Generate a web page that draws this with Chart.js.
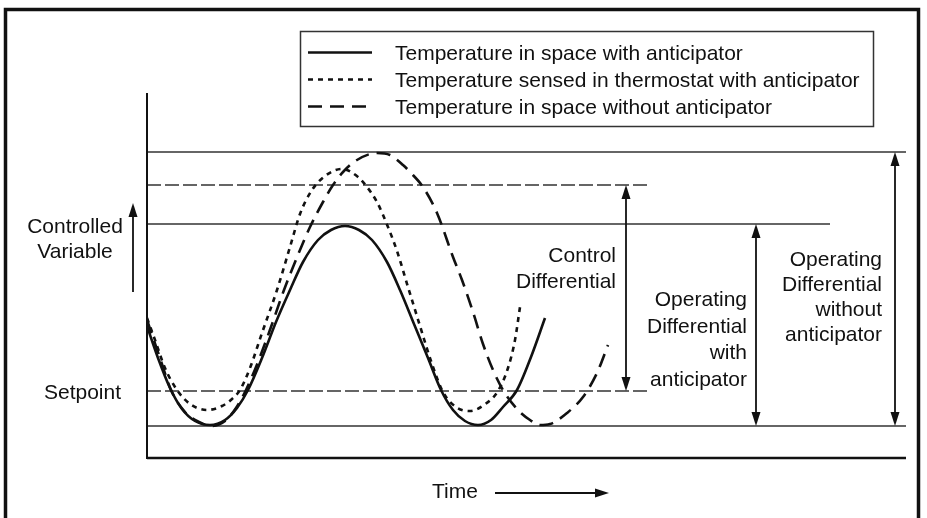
<!DOCTYPE html>
<html>
<head>
<meta charset="utf-8">
<script src="https://cdn.jsdelivr.net/npm/chart.js@4.4.1/dist/chart.umd.min.js"></script>
<style>
  body { margin: 0; background: #fff; }
  canvas { display: block; }
</style>
</head>
<body>
<canvas id="anticipatorChart" width="927" height="518"></canvas>
<script>
// Time and controlled variable are in arbitrary units
const seriesLabels = [
    'Temperature in space with anticipator',
    'Temperature sensed in thermostat with anticipator',
    'Temperature in space without anticipator'
];

// Temperature in space with anticipator
const withTime  = [0, 1.1, 2.3, 3.5, 4.8, 6.3, 7.8, 9.0, 10.1, 11.5, 12.9, 14.3, 15.6, 17.1, 18.4, 19.8, 21.2, 22.5, 24.0, 25.3, 26.7, 28.1, 29.4, 30.6, 31.8, 33.1, 34.4, 35.6, 37.0, 38.4, 39.8];
const withValue = [50, 34, 19, 8.5, 2.5, 0.5, 3, 9, 18, 34, 52, 68, 82, 93, 98, 100, 98, 93, 82, 68, 51, 34, 18, 8, 2.5, 0.5, 3, 9.5, 18, 34.5, 54];

// Temperature sensed in thermostat with anticipator
const sensedTime  = [0, 0.8, 1.8, 3.0, 4.3, 6.0, 7.5, 8.5, 9.3, 10.3, 11.5, 13.0, 14.3, 15.3, 16.5, 17.8, 19.5, 21.1, 22.0, 23.0, 24.1, 25.0, 26.1, 27.3, 28.5, 29.6, 30.9, 32.3, 33.7, 35.1, 36.1, 36.8, 37.3];
const sensedValue = [54, 43, 29, 18, 11, 8, 10, 13.5, 18, 29, 46.5, 68, 89.5, 106, 118, 125, 128.5, 124.5, 119.5, 112, 99.5, 87.5, 69.5, 50, 31, 17, 9.5, 7.5, 10.5, 17.5, 29, 43, 59.5];

// Temperature in space without anticipator
const withoutTime  = [0, 1.3, 2.4, 3.8, 5.2, 6.5, 7.8, 8.9, 9.9, 11.1, 12.4, 13.7, 15.3, 16.3, 17.6, 18.6, 19.6, 21.0, 23.0, 24.3, 25.6, 26.3, 27.6, 29.0, 30.6, 31.5, 32.6, 33.6, 34.6, 35.6, 37.0, 38.3, 39.3, 40.3, 42.0, 43.6, 45.0, 46.1];
const withoutValue = [53, 34, 18, 7, 2, 0, 2.5, 9, 18, 32, 49.5, 68, 88, 99.5, 112, 120.5, 127, 133, 136.5, 135.5, 130.5, 127, 119.5, 106.5, 84.5, 73, 57, 41, 28, 18, 8.5, 3, 0.5, 1, 6.5, 14.5, 26.5, 40.5];

// Reference levels: value and where the line stops on the time axis
const levelValues = [137, 120.5, 101, 17.5, 0];
const levelEnds   = [75.9, 50, 68.3, 50, 75.9];
const levelDashed = [false, true, false, true, false];

// Differential arrows: time position, low and high level
const diffLabels = [
    ['Control', 'Differential'],
    ['Operating', 'Differential', 'with', 'anticipator'],
    ['Operating', 'Differential', 'without', 'anticipator']
];
const diffTime = [47.9, 60.9, 74.8];
const diffLow  = [17.5, 0, 0];
const diffHigh = [120.5, 101, 137];

const toPoints = (xs, ys) => xs.map((x, i) => ({ x: x, y: ys[i] }));

const ink = '#111';
const font = '21px "Liberation Sans", Arial, Helvetica, sans-serif';

const curveDatasets = [
    { label: seriesLabels[0], data: toPoints(withTime, withValue), borderColor: ink, borderWidth: 2.6, borderDash: [] },
    { label: seriesLabels[1], data: toPoints(sensedTime, sensedValue), borderColor: ink, borderWidth: 2.6, borderDash: [5, 5] },
    { label: seriesLabels[2], data: toPoints(withoutTime, withoutValue), borderColor: ink, borderWidth: 2.6, borderDash: [14, 8] }
];

const levelDatasets = levelValues.map((v, i) => ({
    label: 'level ' + i,
    data: [{ x: 0, y: v }, { x: levelEnds[i], y: v }],
    borderColor: '#333',
    borderWidth: 1.5,
    borderDash: levelDashed[i] ? [14, 4] : [],
    tension: 0
}));

function arrowHead(ctx, x, y, dir) {
    // dir: 'up', 'down', 'right'
    const len = 14, half = 4.5;
    ctx.beginPath();
    if (dir === 'up') {
        ctx.moveTo(x, y); ctx.lineTo(x - half, y + len); ctx.lineTo(x + half, y + len);
    } else if (dir === 'down') {
        ctx.moveTo(x, y); ctx.lineTo(x - half, y - len); ctx.lineTo(x + half, y - len);
    } else {
        ctx.moveTo(x, y); ctx.lineTo(x - len, y - half); ctx.lineTo(x - len, y + half);
    }
    ctx.closePath();
    ctx.fill();
}

const decorations = {
    id: 'decorations',
    afterDraw(chart) {
        const ctx = chart.ctx;
        const area = chart.chartArea;
        const xs = chart.scales.x, ys = chart.scales.y;
        ctx.save();
        ctx.strokeStyle = ink;
        ctx.fillStyle = ink;
        ctx.setLineDash([]);

        // outer frame (open at the bottom)
        ctx.lineWidth = 3.5;
        ctx.beginPath();
        ctx.moveTo(5.5, 518);
        ctx.lineTo(5.5, 9.5);
        ctx.lineTo(918.5, 9.5);
        ctx.lineTo(918.5, 518);
        ctx.stroke();

        // axes
        ctx.lineWidth = 2;
        ctx.beginPath();
        ctx.moveTo(area.left, area.top);
        ctx.lineTo(area.left, area.bottom + 1);
        ctx.stroke();
        ctx.lineWidth = 2.5;
        ctx.beginPath();
        ctx.moveTo(area.left, area.bottom);
        ctx.lineTo(area.right, area.bottom);
        ctx.stroke();

        // differential arrows + labels
        ctx.font = font;
        ctx.textAlign = 'right';
        ctx.textBaseline = 'alphabetic';
        const labelRight = [10, 9, 13];
        const labelTop = [262, 306, 266];
        const labelStep = [26, 26.5, 25];
        diffTime.forEach((t, i) => {
            const px = xs.getPixelForValue(t);
            const yTop = ys.getPixelForValue(diffHigh[i]);
            const yBot = ys.getPixelForValue(diffLow[i]);
            ctx.lineWidth = 1.8;
            ctx.beginPath();
            ctx.moveTo(px, yTop + 6);
            ctx.lineTo(px, yBot - 6);
            ctx.stroke();
            arrowHead(ctx, px, yTop, 'up');
            arrowHead(ctx, px, yBot, 'down');
            diffLabels[i].forEach((line, j) => {
                ctx.fillText(line, px - labelRight[i], labelTop[i] + j * labelStep[i]);
            });
        });

        // y axis caption
        ctx.textAlign = 'center';
        ctx.fillText('Controlled', 75, 233);
        ctx.fillText('Variable', 75, 258);
        ctx.lineWidth = 1.8;
        ctx.beginPath();
        ctx.moveTo(133, 292);
        ctx.lineTo(133, 210);
        ctx.stroke();
        arrowHead(ctx, 133, 203, 'up');

        // setpoint caption
        ctx.textAlign = 'right';
        ctx.fillText('Setpoint', 121, ys.getPixelForValue(levelValues[3]) + 8);

        // time caption
        ctx.textAlign = 'left';
        ctx.fillText('Time', 432, 498);
        ctx.beginPath();
        ctx.moveTo(495, 493);
        ctx.lineTo(600, 493);
        ctx.stroke();
        arrowHead(ctx, 609, 493, 'right');

        // legend
        ctx.lineWidth = 1.5;
        ctx.strokeStyle = '#333';
        ctx.strokeRect(300.5, 31.5, 573, 95);
        curveDatasets.forEach((ds, i) => {
            const y = 52.5 + i * 27;
            ctx.strokeStyle = ink;
            ctx.lineWidth = ds.borderWidth;
            ctx.setLineDash(ds.borderDash);
            ctx.beginPath();
            ctx.moveTo(308, y);
            ctx.lineTo(372, y);
            ctx.stroke();
            ctx.setLineDash([]);
            ctx.fillText(ds.label, 395, y + 7);
        });
        ctx.restore();
    }
};

new Chart(document.getElementById('anticipatorChart'), {
    type: 'line',
    data: { datasets: [...curveDatasets, ...levelDatasets] },
    options: {
        responsive: false,
        animation: false,
        layout: { padding: { left: 147, right: 21, top: 93, bottom: 60 } },
        elements: {
            point: { radius: 0 },
            line: { cubicInterpolationMode: 'monotone', borderCapStyle: 'butt' }
        },
        plugins: { legend: { display: false }, tooltip: { enabled: false } },
        scales: {
            x: { type: 'linear', min: 0, max: 75.9, display: false },
            y: { type: 'linear', min: -16, max: 166.5, display: false }
        }
    },
    plugins: [decorations]
});
</script>
</body>
</html>
